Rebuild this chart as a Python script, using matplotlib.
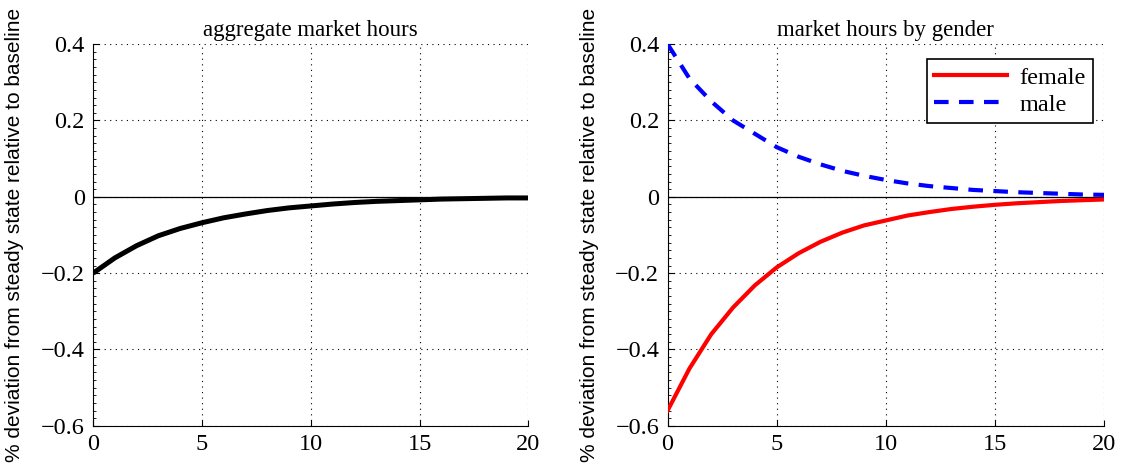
import matplotlib
matplotlib.use("Agg")
import matplotlib.pyplot as plt
from matplotlib.ticker import MultipleLocator

periods = list(range(21))
aggregate = [-0.200, -0.160, -0.128, -0.102, -0.083, -0.068, -0.055, -0.045, -0.036,
             -0.029, -0.024, -0.019, -0.015, -0.012, -0.010, -0.008, -0.006, -0.005,
             -0.004, -0.003, -0.003]
female = [-0.560, -0.450, -0.360, -0.290, -0.232, -0.185, -0.148, -0.118, -0.094,
          -0.075, -0.062, -0.049, -0.040, -0.032, -0.026, -0.021, -0.017, -0.014,
          -0.011, -0.009, -0.007]
male = [0.400, 0.310, 0.250, 0.200, 0.165, 0.130, 0.105, 0.085, 0.068, 0.055,
        0.044, 0.035, 0.028, 0.023, 0.018, 0.015, 0.012, 0.010, 0.008, 0.006, 0.005]
xticks = [0, 5, 10, 15, 20]
yticks = [-0.6, -0.4, -0.2, 0, 0.2, 0.4]
ylabel = "% deviation from steady state relative to baseline"

plt.rcParams['font.family'] = ['Liberation Serif', 'DejaVu Serif']

fig = plt.figure(figsize=(11.22, 4.69), dpi=100)
ax1 = fig.add_axes([0.083, 0.092, 0.388, 0.814])
ax2 = fig.add_axes([0.595, 0.092, 0.389, 0.814])


def fmt(v):
    if v == 0:
        return "0"
    s = f"{abs(v):.1f}"
    return ("\u2212" if v < 0 else "") + s


for ax, title in [(ax1, "aggregate market hours"), (ax2, "market hours by gender")]:
    ax.set_xlim(0, 20)
    ax.set_ylim(-0.6, 0.4)
    ax.set_xticks(xticks)
    ax.set_yticks(yticks)
    ax.set_yticklabels([fmt(v) for v in yticks])
    ax.yaxis.set_minor_locator(MultipleLocator(0.02))
    ax.tick_params(axis='both', which='major', labelsize=17.5, direction='in', length=4, width=0.8, pad=6)
    ax.tick_params(axis='y', which='minor', direction='in', length=2, width=0.6)
    ax.grid(True, which='major', linestyle=(0, (1, 4)), color='black', linewidth=0.8)
    ax.spines['top'].set_visible(False)
    ax.spines['right'].set_visible(False)
    ax.axhline(0, color='black', linewidth=0.9, zorder=2)
    ax.set_title(title, fontsize=16.5, pad=6)
    ax.set_ylabel(ylabel, fontsize=15, family=['Liberation Sans', 'DejaVu Sans'])
    ax.yaxis.set_label_coords(-0.158, 0.5)

ax1.plot(periods, aggregate, color='black', linewidth=3.6, solid_capstyle='butt', zorder=3)
ax2.plot(periods, female, color='#ff0000', linewidth=3.0, label='female', zorder=3)
ax2.plot(periods, male, color='#0000ff', linewidth=3.0, linestyle=(0, (3.5, 2.5)), label='male', zorder=3)

leg = ax2.legend(loc='upper right', bbox_to_anchor=(0.974, 0.96), borderaxespad=0, fontsize=17.5,
                 frameon=True, fancybox=False, edgecolor='black', framealpha=1, handlelength=3.0,
                 borderpad=0.3, labelspacing=0.2, handletextpad=0.5)
leg.get_frame().set_linewidth(1.2)

fig.savefig("out.png", dpi=100)
